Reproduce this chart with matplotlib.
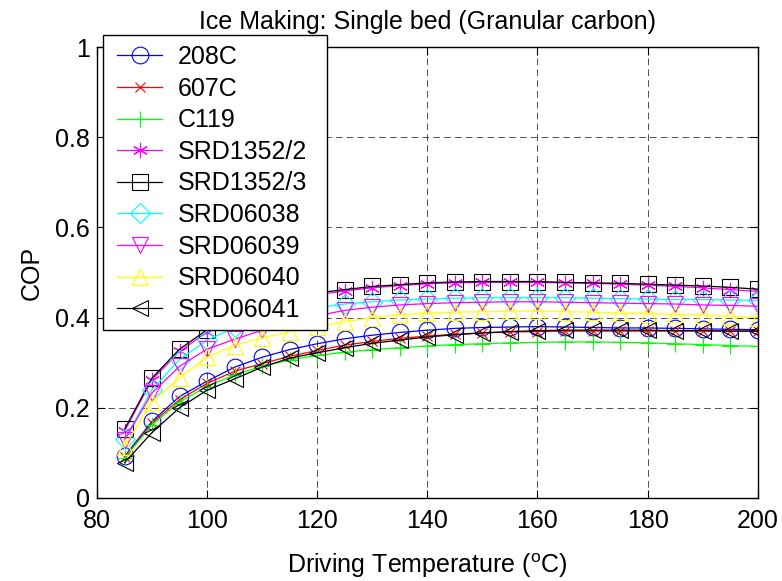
import numpy as np
import matplotlib
matplotlib.use("Agg")
import matplotlib.pyplot as plt
from matplotlib.patches import Rectangle

plt.rcParams['font.family'] = ['Liberation Sans', 'DejaVu Sans']
plt.rcParams['mathtext.default'] = 'regular'

# driving temperature (C)
temp = [85, 90, 95, 100, 105, 110, 115, 120, 125, 130, 135, 140,
        145, 150, 155, 160, 165, 170, 175, 180, 185, 190, 195, 200]

# COP
cop_208c = [.092, .170, .225, .259, .290, .312, .329, .342, .353, .361, .367, .372,
            .376, .378, .379, .380, .379, .378, .377, .377, .376, .375, .374, .373]
cop_607c = [.090, .166, .218, .254, .281, .298, .314, .327, .339, .347, .354, .359,
            .363, .366, .368, .369, .370, .370, .370, .370, .370, .370, .370, .370]
cop_c119 = [.088, .162, .213, .247, .273, .292, .306, .316, .323, .329, .333, .337,
            .340, .342, .344, .345, .346, .346, .345, .344, .342, .340, .338, .336]
cop_srd1352_2 = [.148, .262, .325, .368, .400, .423, .440, .451, .459, .466, .471, .475,
                 .477, .478, .478, .478, .477, .476, .474, .472, .469, .466, .462, .458]
cop_srd1352_3 = [.152, .266, .330, .373, .405, .428, .444, .455, .462, .469, .473, .477,
                 .479, .480, .480, .480, .478, .477, .476, .474, .472, .470, .467, .463]
cop_srd06038 = [.130, .240, .307, .350, .378, .398, .412, .422, .430, .435, .439, .441,
                .443, .444, .444, .444, .444, .443, .442, .441, .440, .440, .439, .438]
cop_srd06039 = [.128, .233, .292, .330, .352, .372, .390, .404, .416, .423, .428, .431,
                .433, .434, .435, .435, .434, .433, .432, .431, .430, .428, .427, .425]
cop_srd06040 = [.114, .213, .266, .312, .338, .355, .368, .380, .391, .400, .406, .410,
                .412, .413, .414, .414, .413, .412, .410, .409, .407, .405, .403, .400]
cop_srd06041 = [.078, .145, .200, .239, .264, .290, .310, .322, .333, .343, .350, .357,
                .362, .366, .369, .371, .372, .372, .372, .372, .371, .371, .370, .370]

series = [
    ("208C", cop_208c, "#0000ff", "o"),
    ("607C", cop_607c, "#ff0000", "x"),
    ("C119", cop_c119, "#00ff00", "+"),
    ("SRD1352/2", cop_srd1352_2, "#ff00ff", (6, 2, 0)),
    ("SRD1352/3", cop_srd1352_3, "#000000", "s"),
    ("SRD06038", cop_srd06038, "#00ffff", "D"),
    ("SRD06039", cop_srd06039, "#ff00ff", "v"),
    ("SRD06040", cop_srd06040, "#ffff00", "^"),
    ("SRD06041", cop_srd06041, "#000000", "<"),
]
sizes = {"o": 12, "x": 7, "+": 11, "s": 11, "D": 10, "v": 12, "^": 12, "<": 12}

W, H = 782, 581
fig = plt.figure(figsize=(W / 100, H / 100), dpi=100)
ax = fig.add_axes([0.124, 0.143, 0.845, 0.776])

for name, y, col, mk in series:
    ms = sizes.get(mk, 11) if isinstance(mk, str) else 11
    ax.plot(temp, y, color=col, marker=mk, markersize=ms, markerfacecolor='none',
            markeredgecolor=col, markeredgewidth=0.8, linewidth=0.9, label=name)

ax.set_xlim(80, 200)
ax.set_ylim(0, 1)
ax.set_xticks(np.arange(80, 201, 20))
ax.set_yticks([0, 0.2, 0.4, 0.6, 0.8, 1])
ax.set_yticklabels(['0', '0.2', '0.4', '0.6', '0.8', '1'])
ax.tick_params(direction='in', top=True, right=True, length=6, labelsize=18, pad=5)
ax.tick_params(axis='x', pad=8)
ax.grid(True, color='#333333', linestyle=(0, (8, 5)), linewidth=0.6)
for s in ax.spines.values():
    s.set_linewidth(1.0)

ax.set_title("Ice Making: Single bed (Granular carbon)", fontsize=18, pad=13)
ax.set_xlabel("Driving Temperature ($^{o}$C)", fontsize=18, labelpad=13)
ax.set_ylabel("COP", fontsize=18, labelpad=8)

# legend box (MATLAB style, sticks out above the axes)
box = Rectangle((103 / W, 1 - 330 / H), (327 - 103) / W, (330 - 35) / H,
                transform=fig.transFigure, facecolor='white', edgecolor='k',
                linewidth=1.0, clip_on=False, zorder=4.5)
ax.add_patch(box)
leg = ax.legend(loc='upper left', bbox_to_anchor=(117 / W, 1 - 45 / H),
                bbox_transform=fig.transFigure, borderaxespad=0, fontsize=18,
                frameon=False, handlelength=1.8, handletextpad=0.64,
                labelspacing=0.305, borderpad=0)
leg.set_zorder(5)

plt.savefig("out.png", dpi=100)
